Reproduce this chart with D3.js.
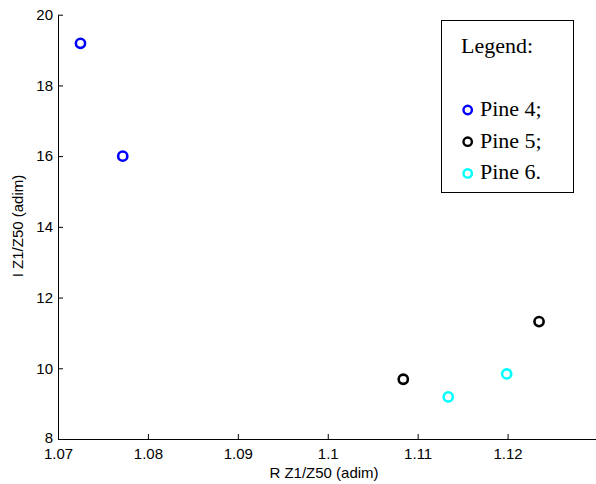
<!DOCTYPE html>
<html><head><meta charset="utf-8">
<script src="https://cdn.jsdelivr.net/npm/d3@7"></script>
<style>html,body{margin:0;padding:0;background:#fff;}svg{display:block;}</style>
</head><body>
<script>
const seriesNames = ["Pine 4;", "Pine 5;", "Pine 6."];
const seriesColors = ["#0000ff", "#000000", "#00ffff"];
const pine4R = [1.0725, 1.0772];
const pine4I = [19.19, 16.0];
const pine5R = [1.1084, 1.1235];
const pine5I = [9.69, 11.32];
const pine6R = [1.1134, 1.1199];
const pine6I = [9.19, 9.84];
const xTicks = [1.07, 1.08, 1.09, 1.1, 1.11, 1.12];
const yTicks = [8, 10, 12, 14, 16, 18, 20];

const series = [
  {name: seriesNames[0], color: seriesColors[0], r: pine4R, i: pine4I},
  {name: seriesNames[1], color: seriesColors[1], r: pine5R, i: pine5I},
  {name: seriesNames[2], color: seriesColors[2], r: pine6R, i: pine6I}
];

const W = 596, H = 484;
const svg = d3.select("body").append("svg").attr("width", W).attr("height", H);
const x = d3.scaleLinear().domain([1.07, 1.13]).range([58, 597.5]);
const y = d3.scaleLinear().domain([8, 20]).range([439, 14.7]);

const font = "'Liberation Sans', Arial, sans-serif";

const xAxis = svg.append("g").attr("transform", `translate(0,${y(8)})`)
  .call(d3.axisBottom(x).tickValues(xTicks).tickSizeInner(-5).tickSizeOuter(0).tickPadding(8)
    .tickFormat(d => d3.format("")(+d.toFixed(2))));
const yAxis = svg.append("g").attr("transform", `translate(${x(1.07)},0)`)
  .call(d3.axisLeft(y).tickValues(yTicks).tickSizeInner(-5).tickSizeOuter(0).tickPadding(5));

[xAxis, yAxis].forEach(g => {
  g.select(".domain").attr("stroke", "#000").attr("stroke-width", 1);
  g.selectAll(".tick line").attr("stroke", "#000").attr("stroke-width", 1);
  g.selectAll("text").attr("fill", "#000").style("font-family", font).style("font-size", "15px");
});
xAxis.selectAll(".tick text").attr("dy", "0.71em").attr("y", 9);
yAxis.selectAll(".tick text").filter(d => d === 8).attr("dy", "0.2em");

svg.append("text").attr("x", 324).attr("y", 478).attr("text-anchor", "middle")
  .style("font-family", font).style("font-size", "15px").text("R Z1/Z50 (adim)");
svg.append("text").attr("transform", "translate(23,226) rotate(-90)").attr("text-anchor", "middle")
  .style("font-family", font).style("font-size", "15px").text("I Z1/Z50 (adim)");

series.forEach(s => {
  svg.append("g").selectAll("circle").data(s.r.map((v, k) => [v, s.i[k]])).join("circle")
    .attr("cx", d => x(d[0])).attr("cy", d => y(d[1])).attr("r", 4.6)
    .attr("fill", "none").attr("stroke", s.color).attr("stroke-width", 2.6);
});

// Legend
const lg = svg.append("g");
lg.append("rect").attr("x", 441.5).attr("y", 20.5).attr("width", 132).attr("height", 172)
  .attr("fill", "#fff").attr("stroke", "#000").attr("stroke-width", 1);
const serif = "'Liberation Serif', 'Times New Roman', serif";
lg.append("text").attr("x", 461).attr("y", 53).style("font-family", serif).style("font-size", "22px").text("Legend:");
series.forEach((s, k) => {
  const by = 116 + k * 31.7;
  lg.append("circle").attr("cx", 467.7).attr("cy", by - 6).attr("r", 4.2)
    .attr("fill", "none").attr("stroke", s.color).attr("stroke-width", 2.4);
  lg.append("text").attr("x", 480).attr("y", by).style("font-family", serif).style("font-size", "22px").text(s.name);
});
</script>
</body></html>
